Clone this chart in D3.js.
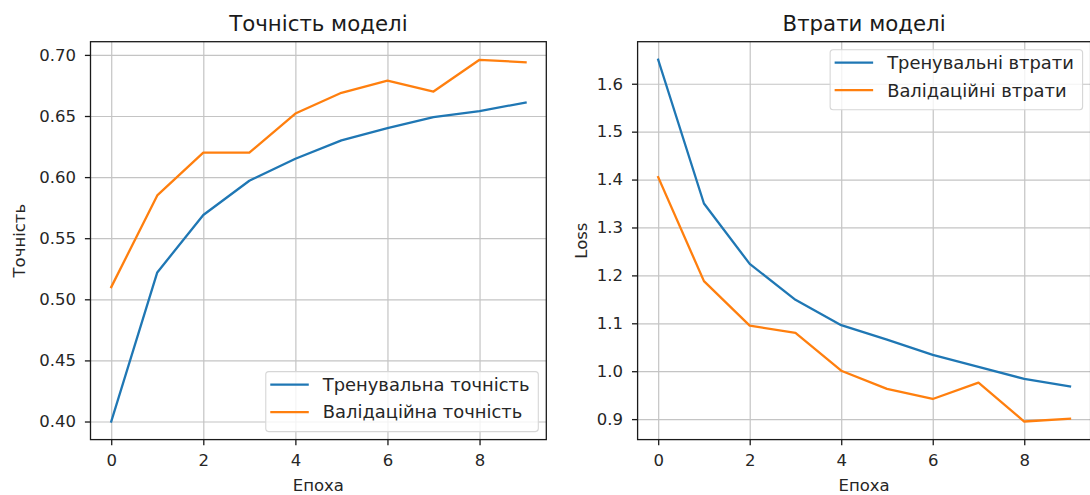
<!DOCTYPE html>
<html>
<head>
<meta charset="utf-8">
<script src="https://cdn.jsdelivr.net/npm/d3@7"></script>
<style>
  html, body { margin: 0; padding: 0; background: #fff; }
  svg { display: block; font-family: "DejaVu Sans", sans-serif; }
</style>
</head>
<body>
<svg id="chart" width="1090" height="495"></svg>
<script>
// Training history
const epochs = [0, 1, 2, 3, 4, 5, 6, 7, 8, 9];
const trainAcc = [0.400, 0.522, 0.569, 0.597, 0.615, 0.630, 0.640, 0.649, 0.654, 0.661];
const valAcc = [0.510, 0.585, 0.620, 0.620, 0.652, 0.669, 0.679, 0.670, 0.696, 0.694];
const trainLoss = [1.650, 1.350, 1.224, 1.149, 1.096, 1.066, 1.034, 1.009, 0.984, 0.968];
const valLoss = [1.405, 1.188, 1.095, 1.080, 1.001, 0.963, 0.942, 0.976, 0.895, 0.901];

// Tick labels
const xTicks = [0, 2, 4, 6, 8];
const accTicks = [0.40, 0.45, 0.50, 0.55, 0.60, 0.65, 0.70];
const lossTicks = [0.9, 1.0, 1.1, 1.2, 1.3, 1.4, 1.5, 1.6];

const BLUE = '#1f77b4';
const ORANGE = '#ff7f0e';
const FONT = 16.5;
const LEGEND_FONT = 17.9;
const TICK = 5.6;

const svg = d3.select('#chart');

// Draw one subplot
function drawPanel(opt) {
  const { left, right, top, bottom } = opt.box;
  const w = right - left;
  const h = bottom - top;

  const g = svg.append('g').attr('transform', `translate(${left},${top})`);

  // matplotlib style 5% margins
  const xExt = d3.extent(epochs);
  const xPad = (xExt[1] - xExt[0]) * 0.05;
  const x = d3.scaleLinear().domain([xExt[0] - xPad, xExt[1] + xPad]).range([0, w]);

  const all = opt.series.flatMap(s => s.values);
  const yExt = d3.extent(all);
  const yPad = (yExt[1] - yExt[0]) * 0.05;
  const y = d3.scaleLinear().domain([yExt[0] - yPad, yExt[1] + yPad]).range([h, 0]);

  // Grid
  g.append('g')
    .attr('class', 'grid')
    .attr('transform', `translate(0,${h})`)
    .call(d3.axisBottom(x).tickValues(xTicks).tickSize(-h).tickFormat(''))
    .call(s => s.select('.domain').remove());
  g.append('g')
    .attr('class', 'grid')
    .call(d3.axisLeft(y).tickValues(opt.yTicks).tickSize(-w).tickFormat(''))
    .call(s => s.select('.domain').remove());
  g.selectAll('.grid line')
    .attr('stroke', '#c4c4c4')
    .attr('stroke-width', 1.2);

  // Lines
  const line = d3.line()
    .x((d, i) => x(epochs[i]))
    .y(d => y(d));

  opt.series.forEach(s => {
    g.append('path')
      .datum(s.values)
      .attr('d', line)
      .attr('fill', 'none')
      .attr('stroke', s.color)
      .attr('stroke-width', 2.3)
      .attr('stroke-linejoin', 'round')
      .attr('stroke-linecap', 'square');
  });

  // Frame
  g.append('rect')
    .attr('width', w)
    .attr('height', h)
    .attr('fill', 'none')
    .attr('stroke', '#1a1a1a')
    .attr('stroke-width', 1.3);

  // Axes
  const xAxis = g.append('g')
    .attr('transform', `translate(0,${h})`)
    .call(d3.axisBottom(x).tickValues(xTicks).tickSize(TICK).tickPadding(9.5).tickFormat(d3.format('d')));
  const yAxis = g.append('g')
    .call(d3.axisLeft(y).tickValues(opt.yTicks).tickSize(TICK).tickPadding(8.9).tickFormat(d3.format(opt.yFormat)));

  [xAxis, yAxis].forEach(a => {
    a.select('.domain').remove();
    a.attr('font-family', null).attr('font-size', null);
    a.selectAll('line').attr('stroke', '#1a1a1a').attr('stroke-width', 1.3);
    a.selectAll('text').attr('fill', '#262626').style('font-size', FONT + 'px');
  });

  // Title and axis labels
  svg.append('text')
    .attr('x', left + w / 2)
    .attr('y', 31)
    .attr('text-anchor', 'middle')
    .attr('fill', '#1a1a1a')
    .style('font-size', '21.3px')
    .text(opt.title);

  svg.append('text')
    .attr('x', left + w / 2)
    .attr('y', 491)
    .attr('text-anchor', 'middle')
    .attr('fill', '#262626')
    .style('font-size', FONT + 'px')
    .text('Епоха');

  svg.append('text')
    .attr('transform', `translate(${opt.yLabelX},${top + h / 2}) rotate(-90)`)
    .attr('text-anchor', 'middle')
    .attr('fill', '#262626')
    .style('font-size', FONT + 'px')
    .text(opt.yLabel);

  // Legend
  const lg = g.append('g');
  const box = lg.append('rect')
    .attr('fill', '#fff')
    .attr('fill-opacity', 0.8)
    .attr('stroke', '#d6d6d6')
    .attr('stroke-width', 1.1)
    .attr('rx', 3);

  const rowH = 27.5;
  const items = lg.selectAll('.legend-item')
    .data(opt.series)
    .enter()
    .append('g')
    .attr('class', 'legend-item')
    .attr('transform', (d, i) => `translate(0,${13 + i * rowH})`);

  items.append('line')
    .attr('x1', 4.5)
    .attr('x2', 43)
    .attr('stroke', d => d.color)
    .attr('stroke-width', 2.3);

  items.append('text')
    .attr('x', 57)
    .attr('y', 6.3)
    .attr('fill', '#262626')
    .style('font-size', LEGEND_FONT + 'px')
    .text(d => d.label);

  const textW = d3.max(items.selectAll('text').nodes(), n => n.getComputedTextLength());
  const boxW = 57 + textW + 8.7;
  const boxH = 60;
  box.attr('width', boxW).attr('height', boxH);

  const lx = w - 8 - boxW;
  const ly = opt.legendPos === 'lower right' ? h - 8 - boxH : 8;
  lg.attr('transform', `translate(${lx},${ly})`);
}

drawPanel({
  box: { left: 90.5, right: 546.3, top: 41.7, bottom: 439.6 },
  title: 'Точність моделі',
  yLabel: 'Точність',
  yLabelX: 25,
  yTicks: accTicks,
  yFormat: '.2f',
  legendPos: 'lower right',
  series: [
    { label: 'Тренувальна точність', values: trainAcc, color: BLUE },
    { label: 'Валідаційна точність', values: valAcc, color: ORANGE }
  ]
});

drawPanel({
  box: { left: 637.6, right: 1090.6, top: 41.7, bottom: 439.6 },
  title: 'Втрати моделі',
  yLabel: 'Loss',
  yLabelX: 586.5,
  yTicks: lossTicks,
  yFormat: '.1f',
  legendPos: 'upper right',
  series: [
    { label: 'Тренувальні втрати', values: trainLoss, color: BLUE },
    { label: 'Валідаційні втрати', values: valLoss, color: ORANGE }
  ]
});
</script>
</body>
</html>
